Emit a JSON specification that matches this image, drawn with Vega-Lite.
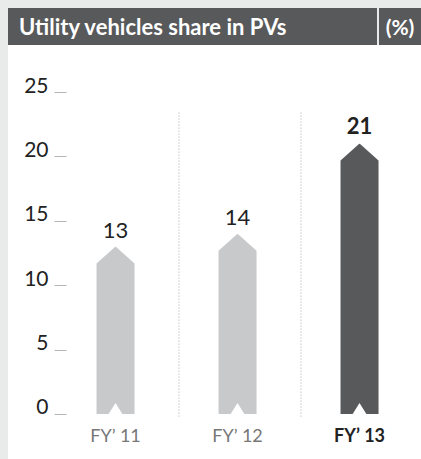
{
  "$schema": "https://vega.github.io/schema/vega-lite/v6.json",
  "autosize": {"type": "pad"},
  "padding": {"left": 8, "top": 8, "right": 0, "bottom": 0},
  "background": "#e9eaea",
  "config": {"font": "Lato", "view": {"stroke": null}},
  "spacing": 0,
  "datasets": {
    "bars": [
      {"year": "FY’ 11", "value": 13, "hl": "no"},
      {"year": "FY’ 12", "value": 14, "hl": "no"},
      {"year": "FY’ 13", "value": 21, "hl": "yes"}
    ]
  },
  "vconcat": [
    {
      "spacing": 2,
      "hconcat": [
        {
          "width": 369,
          "height": 37,
          "view": {"fill": "#58595b", "stroke": null},
          "data": {"values": [{"t": "Utility vehicles share in PVs", "x": 0}]},
          "mark": {"type": "text", "align": "left", "baseline": "alphabetic", "dx": 11, "dy": 8.5, "color": "white", "fontWeight": "bold", "fontSize": 22, "font": "Lato"},
          "encoding": {
            "x": {"field": "x", "type": "quantitative", "scale": {"domain": [0, 1]}, "axis": null},
            "text": {"field": "t"}
          }
        },
        {
          "width": 42,
          "height": 37,
          "view": {"fill": "#58595b", "stroke": null},
          "data": {"values": [{"t": "(%)"}]},
          "mark": {"type": "text", "align": "center", "baseline": "alphabetic", "dy": 8.5, "color": "white", "fontWeight": "bold", "fontSize": 21, "font": "Lato"},
          "encoding": {"text": {"field": "t"}}
        }
      ]
    },
    {
      "width": 413,
      "height": 414,
      "view": {"fill": "white", "stroke": null},
      "data": {"name": "bars"},
      "encoding": {
        "x": {
          "field": "year",
          "type": "nominal",
          "sort": null,
          "scale": {"paddingInner": 0, "paddingOuter": 0.1926, "align": 0.99},
          "axis": {
            "orient": "bottom",
            "offset": -42,
            "domain": false,
            "ticks": false,
            "labelPadding": 10,
            "labelAngle": 0,
            "labelFont": "Lato",
            "labelFontSize": 18,
            "labelColor": {"condition": {"test": "datum.value == 'FY’ 13'", "value": "#222222"}, "value": "#777777"},
            "labelFontWeight": {"condition": {"test": "datum.value == 'FY’ 13'", "value": "bold"}, "value": "normal"},
            "title": null
          }
        }
      },
      "layer": [
        {
          "transform": [{"filter": "datum.hl == 'no'"}],
          "mark": {"type": "rule", "color": "#a8a8a8", "strokeWidth": 1, "strokeDash": [1, 2]},
          "encoding": {
            "x": {"field": "year", "type": "nominal", "sort": null, "bandPosition": 1.02},
            "y": {"datum": 23.4},
            "y2": {"datum": -0.25}
          }
        },
        {
          "mark": {"type": "bar", "width": 38},
          "encoding": {
            "y": {
              "field": "value",
              "type": "quantitative",
              "scale": {"domain": [-3.5, 28.65], "nice": false, "zero": false},
              "axis": {
                "values": [0, 5, 10, 15, 20, 25],
                "orient": "left",
                "offset": -58,
                "domain": false,
                "grid": false,
                "tickSize": 12,
                "tickColor": "#b5b5b5",
                "tickWidth": 1,
                "labelFont": "Lato",
                "labelFontSize": 21,
                "labelColor": "#222222",
                "labelPadding": 6,
                "labelBaseline": "alphabetic",
                "title": null
              }
            },
            "y2": {"datum": 0},
            "color": {
              "field": "hl",
              "type": "nominal",
              "scale": {"domain": ["no", "yes"], "range": ["#c8c9ca", "#58595b"]},
              "legend": null
            }
          }
        },
        {
          "mark": {
            "type": "point",
            "filled": true,
            "color": "white",
            "opacity": 1,
            "strokeWidth": 0,
            "size": 1444,
            "yOffset": 19,
            "shape": "M0,-1L-1,-0.105L-1.1,-0.105L-1.1,-1.1L1.1,-1.1L1.1,-0.105L1,-0.105Z"
          },
          "encoding": {
            "y": {"field": "value", "type": "quantitative"}
          }
        },
        {
          "mark": {
            "type": "point",
            "filled": true,
            "color": "white",
            "opacity": 1,
            "strokeWidth": 0,
            "size": 225,
            "shape": "M-1,0.15L0,-1.47L1,0.15Z"
          },
          "encoding": {
            "y": {"datum": 0}
          }
        },
        {
          "transform": [{"filter": "datum.hl == 'no'"}],
          "mark": {"type": "text", "baseline": "alphabetic", "dy": -9, "fontSize": 22, "color": "#222222", "font": "Lato"},
          "encoding": {
            "y": {"field": "value", "type": "quantitative"},
            "text": {"field": "value", "type": "quantitative"}
          }
        },
        {
          "transform": [{"filter": "datum.hl == 'yes'"}],
          "mark": {"type": "text", "baseline": "alphabetic", "dy": -10, "fontSize": 22, "fontWeight": "bold", "color": "#222222", "font": "Lato"},
          "encoding": {
            "y": {"field": "value", "type": "quantitative"},
            "text": {"field": "value", "type": "quantitative"}
          }
        }
      ]
    }
  ]
}
